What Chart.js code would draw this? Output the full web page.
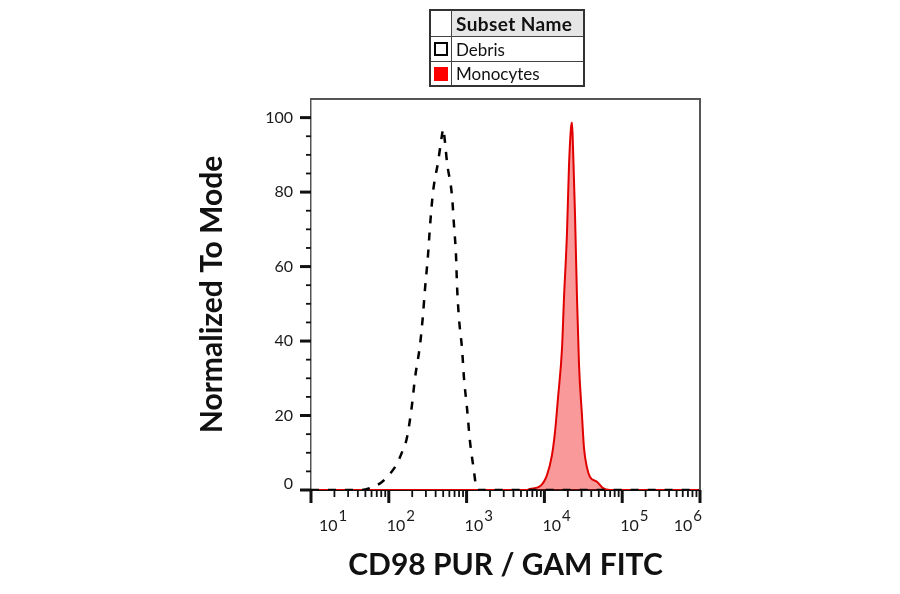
<!DOCTYPE html>
<html>
<head>
<meta charset="utf-8">
<title>CD98 PUR / GAM FITC</title>
<script src="https://cdn.jsdelivr.net/npm/chart.js@4.4.1/dist/chart.umd.min.js"></script>
<style>
  html, body { margin: 0; padding: 0; background: #fff; }
  #wrap { position: relative; width: 900px; height: 594px; }
  #legend {
    position: absolute; left: 429px; top: 9px; width: 156px;
    border-collapse: collapse; table-layout: fixed;
    font-family: Lato, sans-serif; color: #111;
    border: 2px solid #333;
  }
  #legend td { border: 1.5px solid #444; padding: 0 0 0 4px; line-height: 1; }
  #legend td.sw { width: 17px; padding: 0 0 0 3px; }
  #legend tr.head td { height: 25px; }
  #legend tr.row1 td { height: 24px; }
  #legend tr.row2 td { height: 23px; }
  #legend td.hd { background: #e6e6e6; font-weight: bold; font-size: 19px; letter-spacing: 0.4px; }
  #legend td.name { font-size: 17px; }
  .box { display: block; width: 14px; height: 14px; box-sizing: border-box; }
  .box.debris { border: 2.5px solid #000; background: #fff; }
  .box.mono { background: #ff0000; }
</style>
</head>
<body>
<div id="wrap">
  <canvas id="histo" width="900" height="594"></canvas>
  <table id="legend">
    <tr class="head"><td class="sw"></td><td class="hd">Subset Name</td></tr>
    <tr class="row1"><td class="sw"><span class="box debris"></span></td><td class="name">Debris</td></tr>
    <tr class="row2"><td class="sw"><span class="box mono"></span></td><td class="name">Monocytes</td></tr>
  </table>
</div>
<script>
// values (x = channel value, y = % of mode)
const debrisX = [10, 45, 57, 80, 105, 127, 150, 171, 199, 217, 252, 275, 292, 319, 339, 370, 429, 480, 500, 530, 560, 649, 689, 731, 753, 799, 873, 926, 1012, 1106, 1245, 1321, 1400, 1000000];
const debrisY = [0, 0, 0.5, 2, 4.5, 7, 10.5, 14, 23, 30, 39, 47, 54, 63, 71, 80, 88, 95, 97, 93, 88, 79, 71, 63, 55, 46, 38, 30, 22, 13, 5, 1, 0, 0];

const monoX = [10, 6000, 6530, 8770, 10790, 12520, 13690, 14950, 16840, 17860, 19510, 20700, 21980, 22630, 23330, 24740, 26240, 27850, 30420, 32270, 35300, 38560, 47420, 56660, 69680, 1000000];
const monoY = [0, 0, 0.3, 1, 4, 9.4, 15.6, 24.7, 38, 51.6, 69, 87, 97.3, 98.7, 92, 74, 51.6, 33.6, 20, 11.3, 6, 3.5, 2.2, 0.5, 0, 0];

const xDecades = [10, 100, 1000, 10000, 100000, 1000000];
const xExponents = ['1', '2', '3', '4', '5', '6'];
const yLabels = [0, 20, 40, 60, 80, 100];
const yMinorStep = 5;

function toPoints(xs, ys) {
  return xs.map((x, i) => ({ x: x, y: ys[i] }));
}

function stroke(ctx, x1, y1, x2, y2) {
  ctx.beginPath();
  ctx.moveTo(x1, y1);
  ctx.lineTo(x2, y2);
  ctx.stroke();
}

// tick marks, tick labels and the top/right frame
const axisMarks = {
  id: 'axisMarks',
  afterDraw(chart) {
    const { ctx, chartArea: area, scales } = chart;
    const x = scales.x;
    const y = scales.y;
    ctx.save();

    ctx.strokeStyle = '#555';
    ctx.lineWidth = 2;
    ctx.beginPath();
    ctx.moveTo(area.left, area.top);
    ctx.lineTo(area.right, area.top);
    ctx.lineTo(area.right, area.bottom);
    ctx.stroke();

    ctx.strokeStyle = '#111';
    xDecades.forEach((d, i) => {
      const px = x.getPixelForValue(d);
      ctx.lineWidth = 3;
      stroke(ctx, px, area.bottom, px, area.bottom + 13);
      if (i < xDecades.length - 1) {
        ctx.lineWidth = 1.8;
        for (let m = 2; m <= 9; m++) {
          const mx = x.getPixelForValue(d * m);
          stroke(ctx, mx, area.bottom, mx, area.bottom + 7);
        }
      }
    });

    for (let v = 0; v <= 100; v += yMinorStep) {
      const py = y.getPixelForValue(v);
      const major = yLabels.includes(v);
      ctx.lineWidth = major ? 3 : 1.8;
      stroke(ctx, area.left - (major ? 11 : 5), py, area.left, py);
    }

    ctx.fillStyle = '#1a1a1a';
    ctx.font = '16px Lato';
    ctx.textAlign = 'right';
    ctx.textBaseline = 'middle';
    yLabels.forEach((v) => {
      const py = y.getPixelForValue(v) - (v === 0 ? 6 : 0);
      ctx.fillText(String(v), area.left - 18, py);
    });

    ctx.textAlign = 'left';
    ctx.textBaseline = 'alphabetic';
    xDecades.forEach((d, i) => {
      ctx.font = '16px Lato';
      const baseW = ctx.measureText('10').width;
      ctx.font = '15px Lato';
      const supW = ctx.measureText(xExponents[i]).width;
      const total = baseW + 1 + supW;
      let left = x.getPixelForValue(d) - 2;
      left = Math.max(left, area.left + 8);
      left = Math.min(left, area.right + 2 - total);
      ctx.font = '16px Lato';
      ctx.fillText('10', left, area.bottom + 41);
      ctx.font = '15px Lato';
      ctx.fillText(xExponents[i], left + baseW + 1, area.bottom + 31);
    });

    ctx.restore();
  },
};

new Chart(document.getElementById('histo'), {
  type: 'line',
  data: {
    datasets: [
      {
        label: 'Debris',
        data: toPoints(debrisX, debrisY),
        borderColor: '#000',
        borderWidth: 2.5,
        borderDash: [8, 9],
        pointRadius: 0,
        fill: false,
        cubicInterpolationMode: 'monotone',
      },
      {
        label: 'Monocytes',
        data: toPoints(monoX, monoY),
        borderColor: '#e00000',
        borderWidth: 2,
        backgroundColor: 'rgba(240, 0, 0, 0.4)',
        pointRadius: 0,
        fill: 'origin',
        cubicInterpolationMode: 'monotone',
      },
    ],
  },
  options: {
    responsive: false,
    animation: false,
    events: [],
    layout: { padding: { top: 99, right: 200, left: 0, bottom: 0 } },
    scales: {
      x: {
        type: 'logarithmic',
        min: 10,
        max: 1000000,
        grid: { display: false, drawTicks: false },
        ticks: { display: false },
        border: { color: '#111', width: 2 },
        title: {
          display: true,
          text: 'CD98 PUR / GAM FITC',
          color: '#111',
          font: { family: 'Lato', weight: 'bold', size: 30 },
          padding: { top: 57, bottom: 11 },
        },
      },
      y: {
        min: 0,
        max: 105,
        grid: { display: false, drawTicks: false },
        ticks: { display: false },
        border: { color: '#555', width: 1.5 },
        title: {
          display: true,
          text: 'Normalized To Mode',
          color: '#111',
          font: { family: 'Lato', weight: 'bold', size: 30 },
          padding: { top: 194, bottom: 81 },
        },
      },
    },
    plugins: {
      legend: { display: false },
      tooltip: { enabled: false },
    },
  },
  plugins: [axisMarks],
});
</script>
</body>
</html>
